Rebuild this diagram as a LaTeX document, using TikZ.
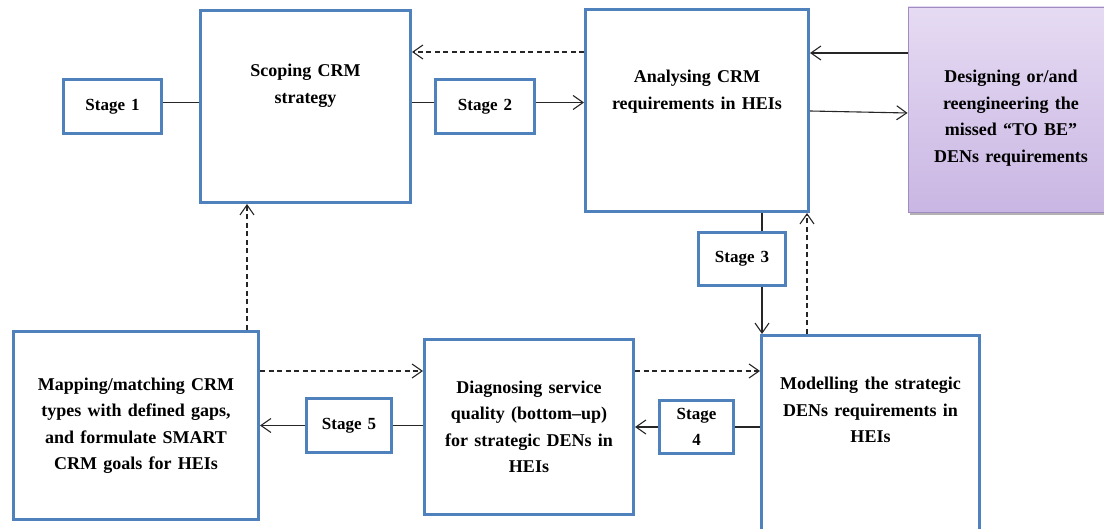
\documentclass[tikz,border=0pt]{standalone}
\usepackage{fontspec}
\setmainfont{Liberation Serif}
\newfontfamily\widefont[WordSpace=1.4,Ligatures=TeX]{Liberation Serif}
\usetikzlibrary{arrows.meta,positioning,shadows}

\definecolor{boxblue}{RGB}{79,129,189}
\definecolor{lilactop}{RGB}{230,219,243}
\definecolor{lilacbot}{RGB}{201,182,227}
\definecolor{lilacline}{RGB}{160,140,192}

\tikzset{
  blk/.style={draw=boxblue, line width=3pt, fill=white, inner sep=0pt,
              align=center, font=\widefont\bfseries\fontsize{18}{26.5}\selectfont},
  stagebox/.style={blk, minimum height=54pt, font=\bfseries\fontsize{17}{26.5}\selectfont},
  txt/.style={inner sep=0pt, align=center,
              font=\widefont\bfseries\fontsize{18}{26.5}\selectfont},
  link/.style={line width=1.1pt, draw=black!85},
  dlink/.style={link, dash pattern=on 5pt off 3.5pt}
}

\begin{document}
\begin{tikzpicture}[x=1pt,y=1pt,>={Straight Barb[length=10pt,width=14pt]}]
  \clip (0,0) rectangle (1104,-529);

  % main blocks
  \node[blk, minimum width=210pt, minimum height=192pt] (scope)  at (305.5,-106.5) {};
  \node[blk, minimum width=223pt, minimum height=202pt] (analys) at (697,-110.5) {};
  \node[draw=lilacline, line width=0.8pt, top color=lilactop, bottom color=lilacbot,
        drop shadow={shadow xshift=2pt, shadow yshift=-3pt, fill=black!60, opacity=0.5},
        minimum width=212pt, minimum height=205pt] (design) at (1014,-109.5) {};
  \node[blk, minimum width=218pt, minimum height=237pt] (model)  at (870.5,-454) {};
  \node[blk, minimum width=209pt, minimum height=175pt] (diag)   at (529,-427)
       {Diagnosing service\\quality (bottom–up)\\for strategic DENs in\\HEIs};
  \node[blk, minimum width=245pt, minimum height=188pt] (map)    at (136,-425.5)
       {Mapping/matching CRM\\types with defined gaps,\\and formulate SMART\\CRM goals for HEIs};

  % texts placed high in their blocks
  \node[txt, below=55pt of scope.north]  (scopetext)  {Scoping CRM\\strategy};
  \node[txt, below=62pt of analys.north] (analystext) {Analysing CRM\\requirements in HEIs};
  \node[txt, below=43pt of model.north]  (modeltext)  {Modelling the strategic\\DENs requirements in\\HEIs};
  \node[txt] (designtext) at (1011,-118)
       {Designing or/and\\reengineering the\\missed “TO BE”\\DENs requirements};

  % stages
  \node[stagebox, minimum width=98pt, left=36pt of scope]  (stageone)   {Stage 1};
  \node[stagebox, minimum width=99pt, right=22pt of scope] (stagetwo)   {Stage 2};
  \node[stagebox, minimum width=87pt, minimum height=53pt] (stagethree) at (742,-259) {Stage 3};
  \node[stagebox, minimum width=74pt, minimum height=53pt, right=23pt of diag] (stagefour) {Stage\\4};
  \node[stagebox, minimum width=85pt, right=45pt of map]   (stagefive)  {Stage 5};

  \coordinate (sthree) at ([xshift=2pt]model.north west);
  \coordinate (back)   at ([xshift=-3pt]analys.south east);
  \coordinate (up)     at ([xshift=111pt]map.north);

  % connectors
  \draw[link] ([yshift=4pt]stageone.east) -- ([yshift=4pt]stageone.east -| scope.west);
  \draw[link] ([yshift=4pt]stagetwo.west -| scope.east) -- ([yshift=4pt]stagetwo.west);
  \draw[link,->] ([yshift=4pt]stagetwo.east) -- ([yshift=4pt]stagetwo.east -| analys.west);
  \draw[dlink,->] ([yshift=58.5pt]analys.west) -- ([yshift=58.5pt]analys.west -| scope.east);
  \draw[link,->] ([yshift=56.5pt]design.west) -- ([yshift=56.5pt]design.west -| analys.east);
  \draw[link,->] ([yshift=-0.5pt]analys.east) -- ([yshift=-3.5pt]design.west);
  \draw[link] (sthree |- analys.south) -- (sthree |- stagethree.north);
  \draw[link,->] (sthree |- stagethree.south) -- (sthree);
  \draw[dlink,->] (back |- model.north) -- (back);
  \draw[dlink,->] ([yshift=54.5pt]map.east) -- ([yshift=54.5pt]map.east -| diag.west);
  \draw[dlink,->] ([yshift=56pt]diag.east) -- ([yshift=56pt]diag.east -| model.west);
  \draw[link] (stagefour.east -| model.west) -- (stagefour.east);
  \draw[link,->] (stagefour.west) -- (stagefour.west -| diag.east);
  \draw[link] (stagefive.east -| diag.west) -- (stagefive.east);
  \draw[link,->] (stagefive.west) -- (stagefive.west -| map.east);
  \draw[dlink,->] (up) -- (up |- scope.south);
\end{tikzpicture}
\end{document}
